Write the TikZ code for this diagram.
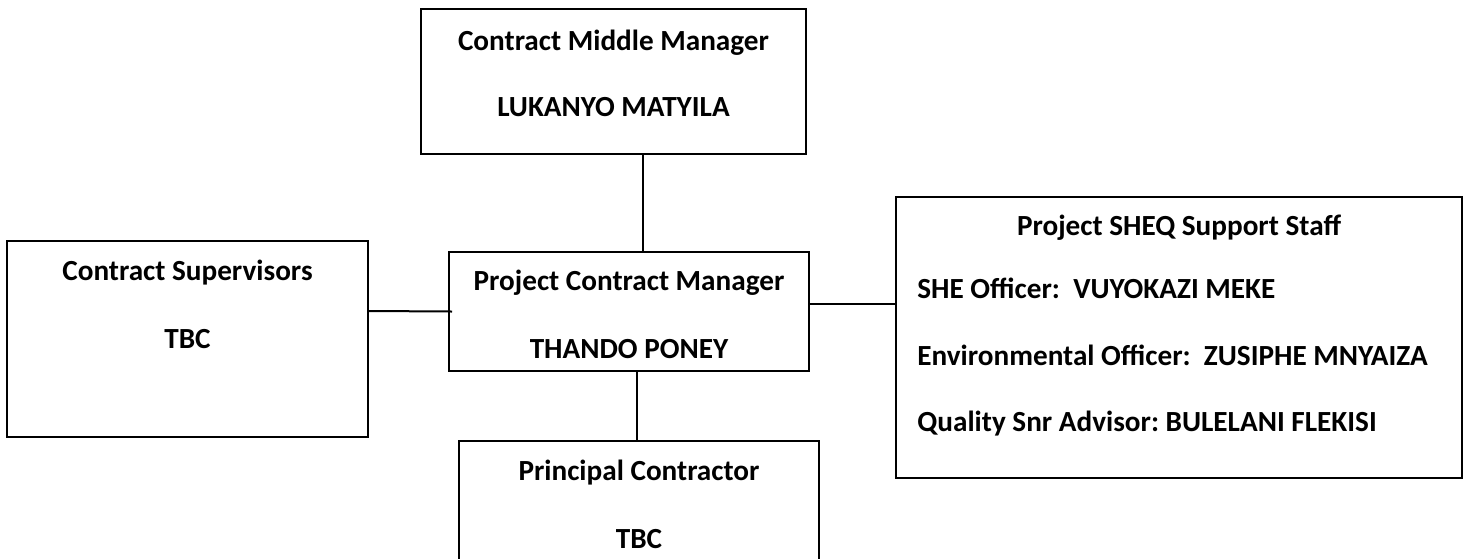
\documentclass[tikz,border=0pt]{standalone}
\usepackage{fontspec}
\setmainfont{Carlito}
\usepackage{tikz}
\usetikzlibrary{positioning}
\frenchspacing

\begin{document}
\begin{tikzpicture}[x=0.5pt, y=-0.5pt,
    every node/.style={font=\fontsize{14.6pt}{17pt}\selectfont\bfseries},
    box/.style={draw, rectangle, line width=1pt, inner sep=0pt},
    txt/.style={anchor=base, inner sep=0pt},
    leftline/.style={anchor=base west, inner sep=0pt}]
  \useasboundingbox (0,0) rectangle (1467,558);
  % Cajas
  \node[box, minimum width=192.5pt, minimum height=72.5pt] (cmm) at (613.5,81.5) {};
  \node[box, minimum width=180pt, minimum height=59.5pt] (pcm) at (629,311.5) {};
  \node[box, minimum width=180.5pt, minimum height=98pt] (sup) at (187.5,339) {};
  \node[box, minimum width=180pt, minimum height=69.5pt] (pc) at (639,510.5) {};
  \node[box, minimum width=283pt, minimum height=140.5pt] (sheq) at (1179,337.5) {};

  % Textos
  \node[txt] (cmm-role) at (613.5,50) {Contract Middle Manager};
  \node[txt] (cmm-name) at (613.5,116) {LUKANYO MATYILA};
  \node[txt] (pcm-role) at (629,290) {Project Contract Manager};
  \node[txt] (pcm-name) at (629,358) {THANDO PONEY};
  \node[txt] (sup-role) at (187.5,280) {Contract Supervisors};
  \node[txt] (sup-name) at (187.5,348) {TBC};
  \node[txt] (pc-role) at (639,480) {Principal Contractor};
  \node[txt] (pc-name) at (639,548) {TBC};
  \node[txt] (sheq-role) at (1179,235) {Project SHEQ Support Staff};
  \node[leftline] (she) at (917,298) {SHE Officer:~ VUYOKAZI MEKE};
  \node[leftline] (env) at (917,365) {Environmental Officer:~ ZUSIPHE MNYAIZA};
  \node[leftline] (qual) at (917,431) {Quality Snr Advisor: BULELANI FLEKISI};

  % Lineas
  \draw[line width=1pt] ([xshift=14.75pt]cmm.south) -- ([xshift=7pt]pcm.north);
  \draw[line width=1pt] ([xshift=4pt]pcm.south) -- ([xshift=-1pt]pc.north);
  \draw[line width=1pt] ([yshift=14pt]sup.east) -- ([xshift=2pt]pcm.west);
  \draw[line width=1pt] ([yshift=3.75pt]pcm.east) -- ([yshift=16.75pt]sheq.west);
\end{tikzpicture}
\end{document}
